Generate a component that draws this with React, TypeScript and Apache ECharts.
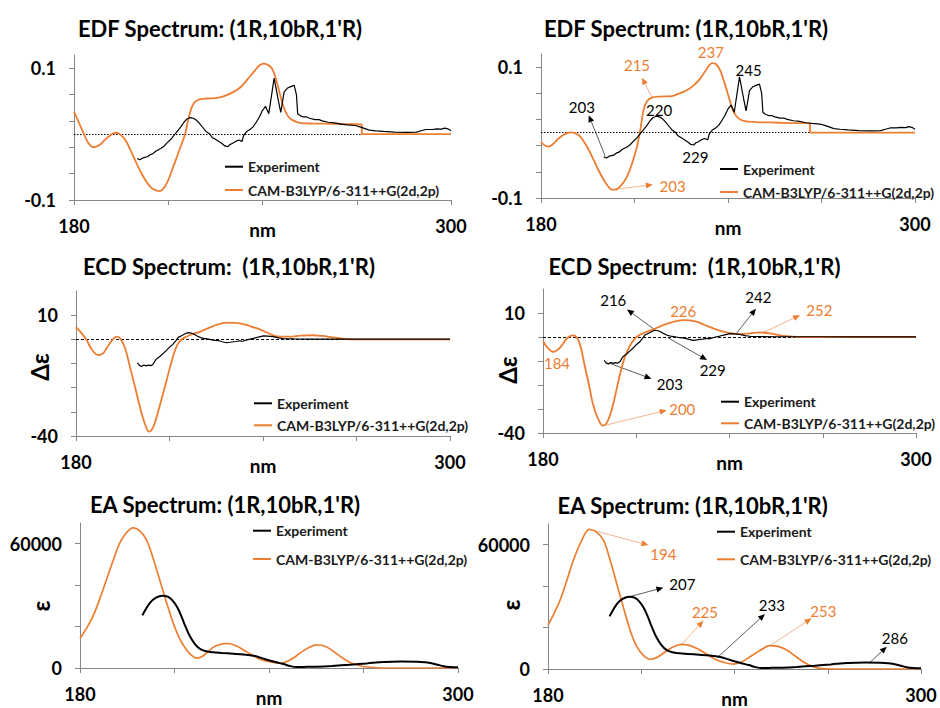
import React, { useEffect, useRef } from 'react';
import * as echarts from 'echarts';

// ---------- data (nm, value) ----------
const EXP_NAME = 'Experiment';
const CALC_NAME = 'CAM-B3LYP/6-311++G(2d,2p)';

const xLabelValues = [180, 300];
const xTickValues = [180, 210, 240, 270, 300];
const edfTickValues = [-0.1, -0.06, -0.02, 0.02, 0.06, 0.1];
const edfLabelValues = [-0.1, 0.1];
const ecdTickValues = [-40, -30, -20, -10, 0, 10];
const ecdLabelValues = [-40, 10];
const eaTickValues = [0, 20000, 40000, 60000];
const eaLabelValues = [0, 60000];

const edfExp = [
  [200.1, -0.037], [201, -0.039], [202, -0.036], [203.5, -0.034], [204.3, -0.031], [205, -0.03], [206, -0.026],
  [207.6, -0.022], [208.5, -0.019], [209.7, -0.013], [211, -0.007], [212, -0.001], [213, 0.005], [214, 0.011],
  [215, 0.018], [216, 0.023], [217, 0.025], [218, 0.024], [219, 0.021], [220, 0.016], [221, 0.01], [222, 0.004],
  [223, 0.001], [224, -0.005], [225, -0.008], [226, -0.011], [227, -0.014], [228, -0.018], [229, -0.019],
  [229.6, -0.016], [230.5, -0.014], [231.5, -0.011], [232.5, -0.009], [233.5, -0.011], [234, -0.002],
  [235, 0.004], [236, 0.007], [237, 0.011], [238, 0.018], [239, 0.026], [240, 0.036], [241, 0.042],
  [242, 0.031], [243.7, 0.085], [245, 0.052], [245.8, 0.033], [246.9, 0.064], [248, 0.07], [249, 0.072],
  [250.1, 0.074], [250.8, 0.06], [251.2, 0.031], [252, 0.028], [253, 0.026], [254, 0.026], [255, 0.024],
  [256.7, 0.022], [258, 0.022], [259, 0.02], [261, 0.018], [263, 0.017], [265, 0.015], [267, 0.014],
  [269.5, 0.013], [271, 0.011], [272.2, 0.009], [274, 0.006], [276, 0.005], [278.5, 0.004], [282, 0.003],
  [286, 0.0025], [289, 0.003], [290.5, 0.005], [292, 0.007], [294, 0.007], [295.5, 0.008], [297, 0.0075],
  [298, 0.009], [299, 0.008], [300, 0.005],
];

const edfCalcLeft = [
  [180, 0.034], [181.5, 0.018], [183, 0.002], [184.5, -0.013], [186.2, -0.02], [188, -0.017], [190, -0.008],
  [191.8, -0.001], [193.1, 0.002], [194.5, 0.0], [196.5, -0.01], [198.9, -0.034], [201, -0.055], [203, -0.072],
  [205, -0.083], [207.2, -0.0864], [209, -0.079], [210.5, -0.064], [211.6, -0.0495], [213.5, -0.025],
  [215.4, 0.001], [216.5, 0.025], [217.5, 0.041], [218.5, 0.049], [220.1, 0.0526], [222.5, 0.054],
  [225.5, 0.055], [228, 0.058], [230.8, 0.064], [233, 0.071], [235, 0.0818], [237.5, 0.096], [239, 0.104],
  [240.3, 0.107], [241.7, 0.105], [243, 0.0995], [244, 0.088], [245.5, 0.0617], [246.8, 0.04], [248.3, 0.026],
  [250, 0.02], [251.9, 0.017], [256, 0.016], [262.5, 0.0156], [267, 0.015], [271.6, 0.0147], [271.6, 0],
  [280, 0], [300, 0],
];

const edfCalcRight = [
  [180, -0.014], [181, -0.019], [182.5, -0.0215], [184, -0.017], [185.1, -0.0114], [187, -0.004],
  [189.4, 0.0003], [191, -0.001], [192.6, -0.0063], [194.8, -0.022], [196.9, -0.0418], [198.5, -0.058],
  [200.1, -0.0722], [201.5, -0.082], [202.8, -0.0873], [204, -0.087], [205.4, -0.0823], [206.8, -0.074],
  [208.1, -0.062], [209.5, -0.043], [210.8, -0.0215], [212, 0.008], [212.9, 0.0342], [214, 0.048],
  [215.6, 0.0534], [218, 0.055], [221.5, 0.0554], [224, 0.059], [226.8, 0.0646], [229, 0.072],
  [231.1, 0.0823], [233, 0.096], [235, 0.106], [236.3, 0.104], [237.5, 0.0949], [238.6, 0.08],
  [239.6, 0.0646], [240.7, 0.047], [241.8, 0.0316], [243.3, 0.022], [245, 0.018], [249, 0.016],
  [253.5, 0.0154], [260, 0.0145], [266.3, 0.0139], [266.3, 0], [275, 0], [300, 0],
];

const ecdExp = [
  [199.7, -9.7], [200.3, -10.8], [201, -11.2], [201.8, -10.6], [202.5, -11], [203.3, -10.7], [204, -10.9],
  [204.8, -10.2], [205.4, -8.8], [206, -7.9], [207, -7.0], [208, -5.8], [209, -4.6], [210.2, -3.0],
  [211, -2.2], [212, -0.6], [212.8, 0.8], [214, 1.6], [215, 2.3], [216, 2.8], [217, 2.6], [217.8, 2.2],
  [219, 1.3], [220, 0.7], [221, 0.4], [222.5, 0.1], [224, -0.3], [225.5, -0.5], [227, -1.0], [228.3, -1.4],
  [229.5, -1.2], [230.5, -1.0], [231.5, -0.9], [232.5, -0.6], [233.5, -0.8], [234.2, -0.5], [235.5, 0.0],
  [236.9, 0.4], [238.5, 0.9], [240.1, 1.4], [241.5, 1.3], [243.3, 1.1], [245, 0.6], [246.5, 0.3],
  [250, 0.2], [255, 0.1], [260, 0.1], [270, 0.1], [280, 0.05], [290, 0.1], [300, 0.05],
];

const ecdCalcLeft = [
  [180, 5.0], [181.5, 3.0], [183.4, -0.3], [185.2, -4.5], [187.2, -6.5], [188.7, -5.8], [189.8, -3.7],
  [191.5, -0.5], [193.1, 1.1], [194.3, 0.2], [195.7, -3.5], [197.3, -11.3], [199, -20], [200.5, -27.9],
  [202, -34.5], [203.4, -38.2], [204.7, -36.5], [205.9, -32], [207.5, -24.5], [209.1, -16.8], [210.5, -10],
  [211.8, -4.4], [213, -1.2], [214.4, 0.4], [217, 2.0], [219.8, 3.1], [224, 5.5], [228.3, 6.9], [232.6, 6.6],
  [236, 5.4], [239, 4.1], [242, 2.4], [244.4, 1.2], [248.6, 1.1], [252, 1.5], [256.1, 1.7], [259, 1.4],
  [262.5, 0.8], [266.8, 0.1], [270, 0], [300, 0],
];

const ecdCalcRight = [
  [180, -1.8], [181.5, -4.5], [183.2, -6.2], [184.5, -5.5], [185.9, -3.8], [187.3, -1.2], [188.6, 0.3],
  [189.7, 0.7], [190.5, 0.3], [191.3, -1.1], [192.3, -5], [193.4, -11.9], [194.8, -20], [196.1, -28.1],
  [197.7, -34], [199.3, -36.9], [200.5, -35.8], [202, -30.8], [203.3, -24], [204.7, -15.9], [206.3, -8.5],
  [207.9, -3.8], [209.5, -0.8], [211.1, 0.9], [215.4, 3.2], [220.8, 5.9], [225.1, 7.0], [229.4, 6.4],
  [232, 5.0], [234.8, 3.6], [237.5, 2.4], [240.2, 1.6], [243.4, 1.2], [246.5, 1.5], [249.8, 1.9], [253, 1.5],
  [256.3, 0.7], [259.5, 0.3], [262.7, 0], [300, 0],
];

const eaExp = [
  [199.8, 25400], [202.2, 31400], [204, 33800], [206.2, 34900], [208, 34300], [209.6, 32200], [211, 29000],
  [212.2, 24900], [213.5, 20000], [214.9, 15300], [216.5, 11500], [218.1, 9200], [220, 8100], [222.3, 7600],
  [225, 7300], [228.7, 6900], [232, 6500], [235, 5950], [237.3, 5000], [239.3, 4000], [242, 2900],
  [244.6, 1900], [246.8, 900], [248.8, 480], [252, 550], [255.2, 640], [260, 1000], [265.8, 1600],
  [271, 2200], [276.4, 2900], [282, 3100], [287, 3050], [289.5, 2800], [291.2, 2400], [293.5, 1600],
  [295.4, 800], [297.5, 450], [300, 320],
];

const eaCalcLeft = [
  [180, 14200], [182, 19000], [184.1, 24900], [186.3, 33500], [188.4, 42600], [190.5, 51800], [192.6, 60300],
  [194.8, 65400], [196.9, 67600], [199, 66200], [201.1, 61900], [203.2, 53000], [205.3, 42600], [207.5, 31500],
  [209.6, 21700], [211.7, 13900], [213.8, 8800], [215.5, 6000], [217, 4800], [218.8, 5500], [220.7, 8000],
  [222.5, 10200], [224.4, 11300], [226, 11800], [227.6, 11700], [229.7, 10600], [231.8, 8800], [234.5, 6400],
  [237.1, 4300], [240, 3000], [243.5, 2400], [245.5, 3000], [247.7, 4800], [250.5, 7900], [253, 10100],
  [254.6, 11000], [256.2, 11100], [258.3, 10100], [260.5, 8000], [263, 5200], [265.8, 2700], [268.5, 1200],
  [271.1, 480], [276.4, 0], [300, 0],
];

const eaCalcRight = [
  [180, 21200], [182, 27000], [183.9, 33300], [186, 42500], [188.2, 52600], [190.8, 62000], [193.3, 67400],
  [195.5, 66200], [197.8, 62300], [200, 52500], [202.1, 41300], [204.3, 29500], [206.4, 18800], [208, 12500],
  [209.6, 8400], [211.2, 5900], [212.8, 4700], [214.9, 5500], [217.1, 7600], [220, 10500], [223, 11900],
  [225.4, 11400], [227.8, 10000], [231, 7200], [234.3, 4300], [237, 3000], [239.6, 2400], [242.3, 3400],
  [245, 5900], [248.2, 8900], [251.4, 11300], [254, 10900], [256.8, 9200], [259.5, 6300], [262.1, 3500],
  [264.8, 1400], [267.5, 320], [272, 0], [300, 0],
];

// annotations (data coordinates): label position, optional arrow from -> to
type Ann = { text: string; at: number[]; from?: number[]; to?: number[]; orange?: boolean };

const edfNotes: Ann[] = [
  { text: '203', at: [193.1, 0.039], from: [200.6, -0.036], to: [195.3, 0.0266] },
  { text: '220', at: [217.9, 0.0342] },
  { text: '229', at: [229.5, -0.0368] },
  { text: '245', at: [246.6, 0.096] },
  { text: '215', at: [210.8, 0.1026], from: [215.6, 0.0535], to: [212.4, 0.0839], orange: true },
  { text: '237', at: [234.5, 0.1228], orange: true },
  { text: '203', at: [222.2, -0.0813], from: [204.4, -0.0863], to: [215.9, -0.0798], orange: true },
];

const ecdNotes: Ann[] = [
  { text: '216', at: [202.6, 15.4], from: [216, 3.0], to: [207, 11.5] },
  { text: '229', at: [234.6, -13.7], from: [220.2, -0.3], to: [232.8, -9.6] },
  { text: '242', at: [249.3, 16.5], from: [242.3, 1.6], to: [248.5, 11.8] },
  { text: '203', at: [220.8, -19.4], from: [201.3, -10.9], to: [214.9, -17.4] },
  { text: '226', at: [225.1, 10.8], orange: true },
  { text: '184', at: [184.5, -11], orange: true },
  { text: '252', at: [268.9, 11.1], from: [250.9, 1.9], to: [262.7, 9.1], orange: true },
  { text: '200', at: [224.8, -29.8], from: [199.3, -37], to: [219.8, -30.5], orange: true },
];

const eaNotes: Ann[] = [
  { text: '194', at: [217.1, 55500], from: [193.3, 67400], to: [212.3, 59840], orange: true },
  { text: '207', at: [223.2, 41000], from: [206.2, 34900], to: [217.1, 39250] },
  { text: '225', at: [230.5, 27350], from: [223, 11900], to: [230, 23300], orange: true },
  { text: '233', at: [252, 30900], from: [234.8, 5950], to: [249.8, 26500] },
  { text: '253', at: [268.6, 28150], from: [251.4, 11260], to: [264.8, 24450], orange: true },
  { text: '286', at: [291.6, 14800], from: [283.6, 3200], to: [289, 10800] },
];

// ---------- styling / layout ----------
const ORANGE = '#ED7D31';
const AXIS_GRAY = '#868686';
const FONT = 'Lato, "Noto Sans", sans-serif';

type Kind = 'edf' | 'ecd' | 'ea';
const panels: {
  kind: Kind; exp: number[][]; calc: number[][]; notes: Ann[];
  grid: { left: number; top: number; width: number; height: number };
  title: string; titlePos: number[]; legendPos: number[]; legendGap: number; nameY?: string; namePos?: number[];
}[] = [
  { kind: 'edf', exp: edfExp, calc: edfCalcLeft, notes: [], grid: { left: 74, top: 55, width: 377, height: 145 },
    title: "EDF Spectrum: (1R,10bR,1'R)", titlePos: [220, 28], legendPos: [225, 157.7], legendGap: 5.3 },
  { kind: 'edf', exp: edfExp, calc: edfCalcRight, notes: edfNotes, grid: { left: 541, top: 54, width: 374, height: 144 },
    title: "EDF Spectrum: (1R,10bR,1'R)", titlePos: [686, 28], legendPos: [720, 160], legendGap: 5 },
  { kind: 'ecd', exp: ecdExp, calc: ecdCalcLeft, notes: [], grid: { left: 76, top: 291, width: 374, height: 145 },
    title: "ECD Spectrum:  (1R,10bR,1'R)", titlePos: [229, 266], legendPos: [254, 394.3], legendGap: 4,
    nameY: 'Δε', namePos: [39, 367] },
  { kind: 'ecd', exp: ecdExp, calc: ecdCalcRight, notes: ecdNotes, grid: { left: 543, top: 289, width: 373, height: 144 },
    title: "ECD Spectrum:  (1R,10bR,1'R)", titlePos: [694.5, 266], legendPos: [721, 392.7], legendGap: 3.6,
    nameY: 'Δε', namePos: [507.5, 370] },
  { kind: 'ea', exp: eaExp, calc: eaCalcLeft, notes: [], grid: { left: 80, top: 523, width: 378, height: 145 },
    title: "EA Spectrum: (1R,10bR,1'R)", titlePos: [225, 504], legendPos: [253, 521.7], legendGap: 10.3,
    nameY: 'ε', namePos: [40, 606] },
  { kind: 'ea', exp: eaExp, calc: eaCalcRight, notes: eaNotes, grid: { left: 548, top: 524, width: 373, height: 145 },
    title: "EA Spectrum: (1R,10bR,1'R)", titlePos: [692.7, 505], legendPos: [717, 522.7], legendGap: 9.6,
    nameY: 'ε', namePos: [510, 605] },
];

const yCfg: Record<Kind, { min: number; max: number; ticks: number[]; labels: number[] }> = {
  edf: { min: -0.1, max: 0.12, ticks: edfTickValues, labels: edfLabelValues },
  ecd: { min: -40, max: 20, ticks: ecdTickValues, labels: ecdLabelValues },
  ea: { min: 0, max: 70000, ticks: eaTickValues, labels: eaLabelValues },
};

function buildOption() {
  const grid: any[] = [];
  const xAxis: any[] = [];
  const yAxis: any[] = [];
  const series: any[] = [];
  const legend: any[] = [];
  panels.forEach((p, i) => {
    grid.push({ ...p.grid, show: false, containLabel: false, outerBoundsMode: 'none' });
    xAxis.push({
      type: 'value', gridIndex: i, min: 180, max: 300, interval: 30,
      name: 'nm', nameLocation: 'middle', nameGap: 20, nameMoveOverlap: false,
      nameTextStyle: { fontFamily: FONT, fontWeight: 'bold', fontSize: 19, color: '#000' },
      axisLine: { show: true, onZero: false, lineStyle: { color: AXIS_GRAY, width: 1 } },
      axisTick: { show: true, inside: false, length: 5, customValues: xTickValues, lineStyle: { color: AXIS_GRAY } },
      axisLabel: {
        show: true, margin: 17, customValues: xLabelValues, fontFamily: FONT, fontWeight: 'bold', fontSize: 18, color: '#000',
        formatter: (v: number) => (xLabelValues.includes(v) ? String(v) : ''),
      },
      splitLine: { show: false },
    });
    const yc = yCfg[p.kind];
    yAxis.push({
      type: 'value', gridIndex: i, min: yc.min, max: yc.max,
      axisLine: { show: true, onZero: false, lineStyle: { color: AXIS_GRAY, width: 1 } },
      axisTick: { show: true, inside: false, length: 5, customValues: yc.ticks, lineStyle: { color: AXIS_GRAY } },
      axisLabel: {
        show: true, margin: 18, customValues: yc.labels, fontFamily: FONT, fontWeight: 'bold', fontSize: 18, color: '#000',
        formatter: (v: number) => (yc.labels.some((l) => Math.abs(l - v) < 1e-9) ? String(v) : ''),
      },
      splitLine: { show: false },
    });
    const isEa = p.kind === 'ea';
    series.push({
      type: 'line', name: CALC_NAME, xAxisIndex: i, yAxisIndex: i, data: p.calc,
      symbol: 'none', showSymbol: false, smooth: 0.35, color: ORANGE, silent: true,
      lineStyle: { color: ORANGE, width: isEa ? 1.7 : 1.8 }, z: 2,
      markLine: isEa ? undefined : {
        silent: true, symbol: ['none', 'none'], label: { show: false }, z: 1,
        lineStyle: { color: '#000', width: 1, type: p.kind === 'edf' ? [1.5, 1.5] : [3, 2] },
        emphasis: { disabled: true },
        data: [{ yAxis: 0 }],
      },
    });
    series.push({
      type: 'line', name: EXP_NAME, xAxisIndex: i, yAxisIndex: i, data: p.exp,
      symbol: 'none', showSymbol: false, smooth: isEa ? 0.35 : false, color: '#000', silent: true,
      lineStyle: { color: '#000', width: isEa ? 2 : 1.2 }, z: 3,
    });
    legend.push({
      left: p.legendPos[0], top: p.legendPos[1], orient: 'vertical', itemGap: p.legendGap,
      itemWidth: 18, itemHeight: 2, icon: 'rect', selectedMode: false, padding: 0,
      data: [EXP_NAME, CALC_NAME],
      textStyle: { fontFamily: FONT, fontWeight: 'bold', fontSize: 14, color: '#1a1a1a', lineHeight: 18 },
    });
  });
  return { animation: false, backgroundColor: '#ffffff', grid, xAxis, yAxis, series, legend };
}

function buildGraphics(chart: any) {
  const els: any[] = [];
  const txt = (text: string, x: number, y: number, font: string, fill: string, rotation = 0) => ({
    type: 'text', x, y, rotation, silent: true,
    style: {
      text, x: 0, y: 0, font, fill,
      align: 'center', verticalAlign: 'middle', textAlign: 'center', textVerticalAlign: 'middle',
    },
  });
  panels.forEach((p, i) => {
    els.push(txt(p.title, p.titlePos[0], p.titlePos[1], `bold 22px ${FONT}`, '#000'));
    if (p.nameY && p.namePos) {
      els.push(txt(p.nameY, p.namePos[0], p.namePos[1], `bold 24px ${FONT}`, '#000', Math.PI / 2));
    }
    p.notes.forEach((n) => {
      const color = n.orange ? ORANGE : '#000';
      const pos = chart.convertToPixel({ gridIndex: i }, n.at);
      els.push(txt(n.text, pos[0], pos[1], `15px ${FONT}`, color));
      if (n.from && n.to) {
        const a = chart.convertToPixel({ gridIndex: i }, n.from);
        const b = chart.convertToPixel({ gridIndex: i }, n.to);
        const dx = b[0] - a[0];
        const dy = b[1] - a[1];
        const len = Math.sqrt(dx * dx + dy * dy) || 1;
        const ux = dx / len;
        const uy = dy / len;
        const hl = 7;
        const hw = 3;
        const bx = b[0] - ux * hl;
        const by = b[1] - uy * hl;
        const lineColor = n.orange ? '#F0A070' : '#333';
        els.push({
          type: 'line', silent: true,
          shape: { x1: a[0], y1: a[1], x2: bx, y2: by },
          style: { stroke: lineColor, lineWidth: 0.8 },
        });
        els.push({
          type: 'polygon', silent: true,
          shape: { points: [[b[0], b[1]], [bx - uy * hw, by + ux * hw], [bx + uy * hw, by - ux * hw]] },
          style: { fill: n.orange ? ORANGE : '#000' },
        });
      }
    });
  });
  return { elements: els };
}

export default function App() {
  const ref = useRef<HTMLDivElement>(null);
  useEffect(() => {
    if (!ref.current) return;
    const chart = echarts.init(ref.current, null, { renderer: 'svg' });
    chart.setOption(buildOption() as any);
    chart.setOption({ graphic: buildGraphics(chart) } as any);
    return () => chart.dispose();
  }, []);
  return (
    <div
      ref={ref}
      style={{ position: 'absolute', left: 0, top: 0, width: 940, height: 708, background: '#fff' }}
    />
  );
}
